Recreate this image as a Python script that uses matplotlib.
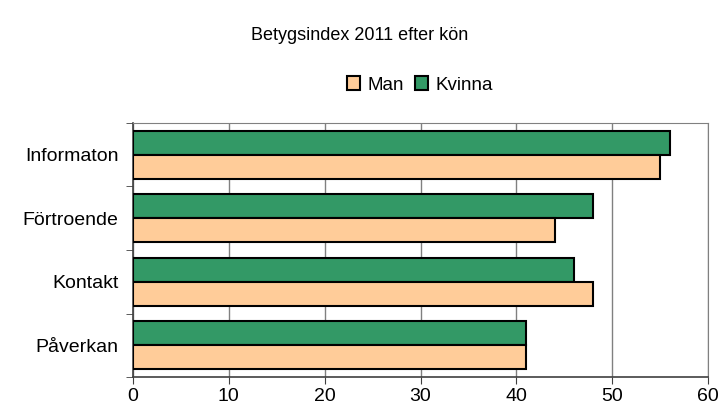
import matplotlib
matplotlib.use("Agg")
import matplotlib.pyplot as plt
import numpy as np

categories = ["Informaton", "Förtroende", "Kontakt", "Påverkan"]
man = [55, 44, 48, 41]
kvinna = [56, 48, 46, 41]
xticks = [0, 10, 20, 30, 40, 50, 60]

plt.rcParams['font.family'] = ['Liberation Sans', 'DejaVu Sans']

fig = plt.figure(figsize=(7.2, 4.07), dpi=100)
ax = fig.add_axes([133/720, 1-377/407, (708-133)/720, (377-123)/407])

n = len(categories)
y = np.arange(n)[::-1].astype(float)
h = 0.38
ax.barh(y + h/2, kvinna, height=h, color='#339966', edgecolor='black', linewidth=1.5, label='Kvinna', zorder=3)
ax.barh(y - h/2, man, height=h, color='#FFCC99', edgecolor='black', linewidth=1.5, label='Man', zorder=3)

ax.set_xlim(0, 60)
ax.set_ylim(-0.5, n - 0.5)
ax.set_xticks(xticks)
ax.set_xticklabels([str(t) for t in xticks], fontsize=14)
ax.set_yticks(y)
ax.set_yticklabels(categories, fontsize=14)
ax.tick_params(axis='y', which='major', length=0, pad=10.5)
ax.set_yticks(np.arange(-0.5, n, 1.0), minor=True)
ax.tick_params(axis='y', which='minor', length=5, direction='out', color='#404040')
ax.tick_params(axis='x', which='major', length=5, direction='out', color='#404040', pad=3)
ax.xaxis.grid(True, color='#808080', linewidth=1, zorder=0)
for s in ['top', 'right']:
    ax.spines[s].set_color('#808080')
for s in ['left', 'bottom']:
    ax.spines[s].set_color('#404040')
    ax.spines[s].set_linewidth(1.2)

handles, labels = ax.get_legend_handles_labels()
fig.legend(handles[::-1], labels[::-1], loc='center', bbox_to_anchor=(420/720, 1-85/407),
           ncol=2, frameon=False, fontsize=13.5, handlelength=0.7, handleheight=0.7,
           handletextpad=0.4, columnspacing=0.6)
fig.text(0.5, 1-36/407, "Betygsindex 2011 efter kön", ha='center', va='center', fontsize=13)

fig.savefig("out.png", dpi=100)
